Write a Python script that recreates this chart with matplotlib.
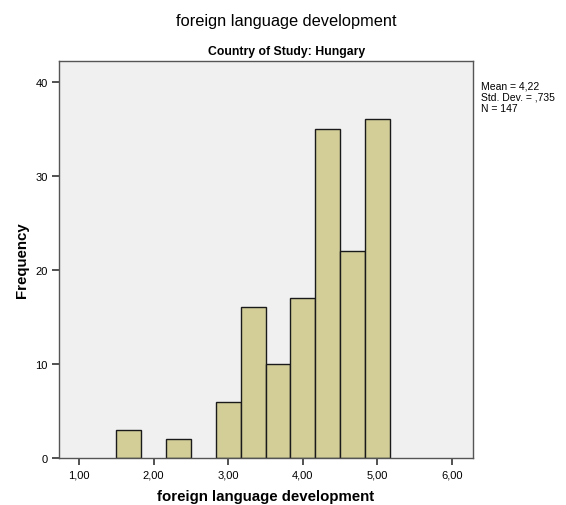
import matplotlib.pyplot as plt

plt.rcParams['font.family'] = ['Liberation Sans', 'DejaVu Sans']

# histogram bins (left edges) and counts
bin_left = [1.5, 1.8333, 2.1667, 2.5, 2.8333, 3.1667, 3.5, 3.8333, 4.1667, 4.5, 4.8333]
counts = [3, 0, 2, 0, 6, 16, 10, 17, 35, 22, 36]
bin_width = 1 / 3

x_ticks = [1, 2, 3, 4, 5, 6]
x_labels = ['1,00', '2,00', '3,00', '4,00', '5,00', '6,00']
y_ticks = [0, 10, 20, 30, 40]

fig = plt.figure(figsize=(5.66, 5.06), dpi=100)
ax = fig.add_axes([0.1042, 0.0929, 0.7315, 0.7846])
ax.set_facecolor('#F0F0F0')

lefts = [l for l, c in zip(bin_left, counts) if c > 0]
heights = [c for c in counts if c > 0]
ax.bar(lefts, heights, width=bin_width, align='edge',
       color='#D3CE98', edgecolor='#1a1a1a', linewidth=1.0, zorder=2)

ax.set_xlim(0.732, 6.28)
ax.set_ylim(0, 42.2)
ax.set_xticks(x_ticks)
ax.set_xticklabels(x_labels)
ax.set_yticks(y_ticks)
ax.tick_params(axis='both', labelsize=8, length=5, width=1.2, color='#333333', pad=3)
for s in ax.spines.values():
    s.set_color('#555555')
    s.set_linewidth(1.0)

ax.set_xlabel('foreign language development', fontsize=10.8, fontweight='bold', labelpad=7)
ax.set_ylabel('Frequency', fontsize=10.8, fontweight='bold', labelpad=5)

fig.text(0.506, 0.957, 'foreign language development', fontsize=11.8, ha='center', va='center')
fig.text(0.506, 0.897, 'Country of Study: Hungary', fontsize=8.8, fontweight='bold',
         ha='center', va='center')
fig.text(0.849, 0.838, 'Mean = 4,22\nStd. Dev. = ,735\nN = 147', fontsize=7.5,
         ha='left', va='top', linespacing=1.1)

fig.savefig('out.png', dpi=100)
